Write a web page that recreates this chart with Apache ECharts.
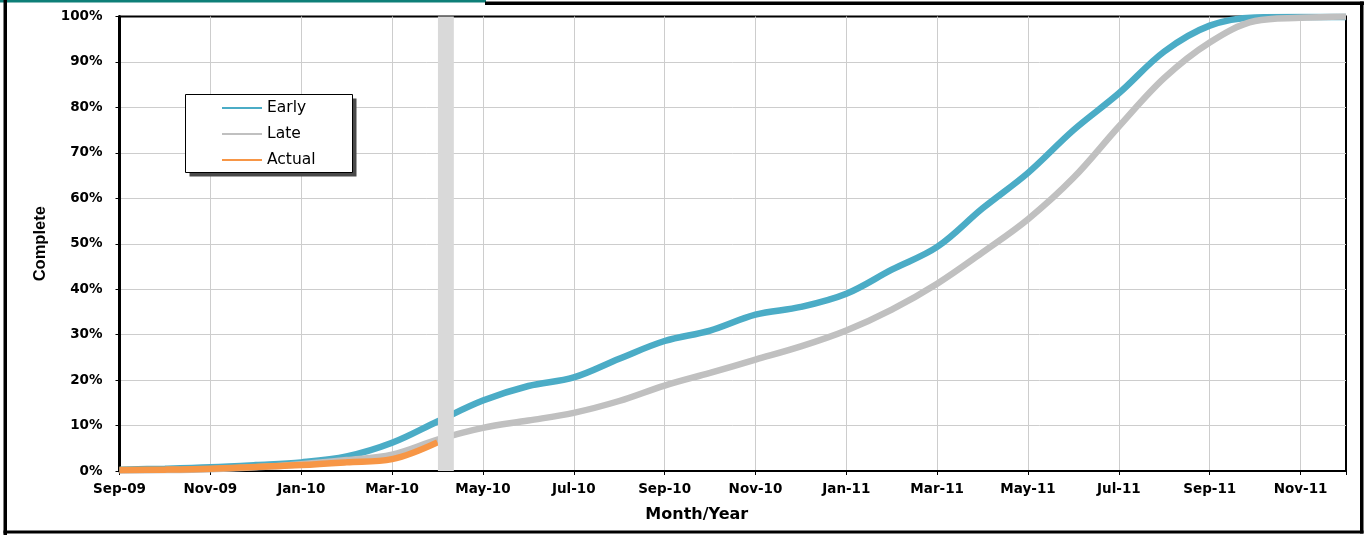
<!DOCTYPE html>
<html>
<head>
<meta charset="utf-8">
<script src="https://cdn.jsdelivr.net/npm/echarts@6/dist/echarts.min.js"></script>
<style>
  html, body { margin: 0; padding: 0; background: #fff; }
  #s-curve { width: 1369px; height: 535px; }
</style>
</head>
<body>
<div id="s-curve"></div>
<script>
// month index 0 = Sep-09 ... 27 = Dec-11, labels every 2 months
var monthLabels = ['Sep-09', 'Nov-09', 'Jan-10', 'Mar-10', 'May-10', 'Jul-10', 'Sep-10',
                   'Nov-10', 'Jan-11', 'Mar-11', 'May-11', 'Jul-11', 'Sep-11', 'Nov-11'];
var earlyPct = [0.3, 0.5, 0.8, 1.3, 1.9, 3.2, 6.2, 10.9, 15.5, 18.7, 20.6, 24.7, 28.6, 30.9,
                34.4, 36.1, 39.0, 44.3, 49.3, 57.8, 65.6, 75.0, 83.1, 92.3, 98.0, 99.8, 99.9, 99.9];
var latePct = [0.1, 0.2, 0.4, 0.8, 1.5, 2.4, 3.6, 6.9, 9.5, 11.1, 12.8, 15.4, 18.8, 21.6,
               24.5, 27.4, 30.9, 35.5, 41.2, 48.1, 55.4, 64.5, 75.8, 86.5, 94.3, 99.0, 99.7, 100];
var actualPct = [0.2, 0.3, 0.5, 0.9, 1.3, 1.9, 2.6, 6.3];
var dataDate = [7.01, 7.36]; // grey status-date band, in months

function toPoints(arr) {
    return arr.map(function (v, i) { return [i, v]; });
}

var chart = echarts.init(document.getElementById('s-curve'));
var option = {
    animation: false,
    grid: {
        left: 119.5, right: 23, top: 16.5, bottom: 64,
        show: true, borderColor: '#000', borderWidth: 2
    },
    legend: {
        orient: 'vertical',
        left: 185, top: 94,
        padding: [6, 34, 5, 37],
        itemGap: 10,
        itemWidth: 40, itemHeight: 2,
        icon: 'rect',
        textStyle: { fontFamily: 'DejaVu Sans', fontSize: 15.5, color: '#000' },
        data: ['Early', 'Late', 'Actual']
    },
    xAxis: {
        type: 'value',
        min: 0, max: 27, interval: 2,
        name: 'Month/Year',
        nameLocation: 'middle',
        nameGap: 36,
        nameTextStyle: {
            fontFamily: 'DejaVu Sans', fontWeight: 'bold', fontSize: 16, color: '#000',
            padding: [0, 72, 0, 0]
        },
        axisLine: { lineStyle: { color: '#000', width: 2 } },
        axisTick: { length: 4, lineStyle: { color: '#000' } },
        axisLabel: {
            margin: 11,
            fontFamily: 'DejaVu Sans', fontWeight: 'bold', fontSize: 13.5, color: '#000',
            formatter: function (v) { return v % 2 === 0 ? (monthLabels[v / 2] || '') : ''; }
        },
        splitLine: { showMinLine: false, showMaxLine: false, lineStyle: { color: '#cdcdcd', width: 1 } }
    },
    yAxis: {
        type: 'value',
        min: 0, max: 100, interval: 10,
        name: 'Complete',
        nameLocation: 'middle',
        nameGap: 71,
        nameTextStyle: {
            fontFamily: 'Liberation Sans', fontWeight: 'bold',
            fontSize: 16.5, color: '#000'
        },
        axisLine: { show: true, lineStyle: { color: '#000', width: 3 } },
        axisTick: { show: true, length: 4, lineStyle: { color: '#000' } },
        axisLabel: {
            margin: 17,
            fontFamily: 'DejaVu Sans', fontWeight: 'bold', fontSize: 13.5, color: '#000',
            formatter: '{value}%'
        },
        splitLine: { showMinLine: false, showMaxLine: false, lineStyle: { color: '#cdcdcd', width: 1 } }
    },
    series: [
        {
            name: 'Early', type: 'line', smooth: 0.35, showSymbol: false,
            color: '#4bacc6', lineStyle: { width: 6.5 },
            data: toPoints(earlyPct)
        },
        {
            name: 'Late', type: 'line', smooth: 0.35, showSymbol: false,
            color: '#c0c0c0', lineStyle: { width: 6.5 },
            data: toPoints(latePct)
        },
        {
            name: 'Actual', type: 'line', smooth: 0.35, showSymbol: false,
            color: '#f79646', lineStyle: { width: 6.5 },
            data: toPoints(actualPct),
            markArea: {
                silent: true,
                z: 5,
                itemStyle: { color: '#d9d9d9' },
                data: [[{ xAxis: dataDate[0], yAxis: 0 }, { xAxis: dataDate[1], yAxis: 100 }]]
            }
        }
    ],
    graphic: [
        // page frame
        { type: 'rect', shape: { x: 0, y: 0, width: 486, height: 2.5 }, style: { fill: '#0e7f78' } },
        { type: 'rect', shape: { x: 485, y: 1.5, width: 879, height: 3.5 }, style: { fill: '#000' } },
        { type: 'rect', shape: { x: 3.5, y: 0, width: 3.5, height: 535 }, style: { fill: '#000' } },
        { type: 'rect', shape: { x: 1360, y: 1.5, width: 3.5, height: 532 }, style: { fill: '#000' } },
        { type: 'rect', shape: { x: 3.5, y: 530.5, width: 1360, height: 3 }, style: { fill: '#000' } },
        // legend box with drop shadow
        { type: 'rect', z: 3, shape: { x: 189.5, y: 98.5, width: 167, height: 78 }, style: { fill: '#4a4a4a' } },
        { type: 'rect', z: 3, shape: { x: 185.5, y: 94.5, width: 167, height: 78 },
          style: { fill: '#fff', stroke: '#000', lineWidth: 1 } }
    ]
};
chart.setOption(option);
</script>
</body>
</html>
